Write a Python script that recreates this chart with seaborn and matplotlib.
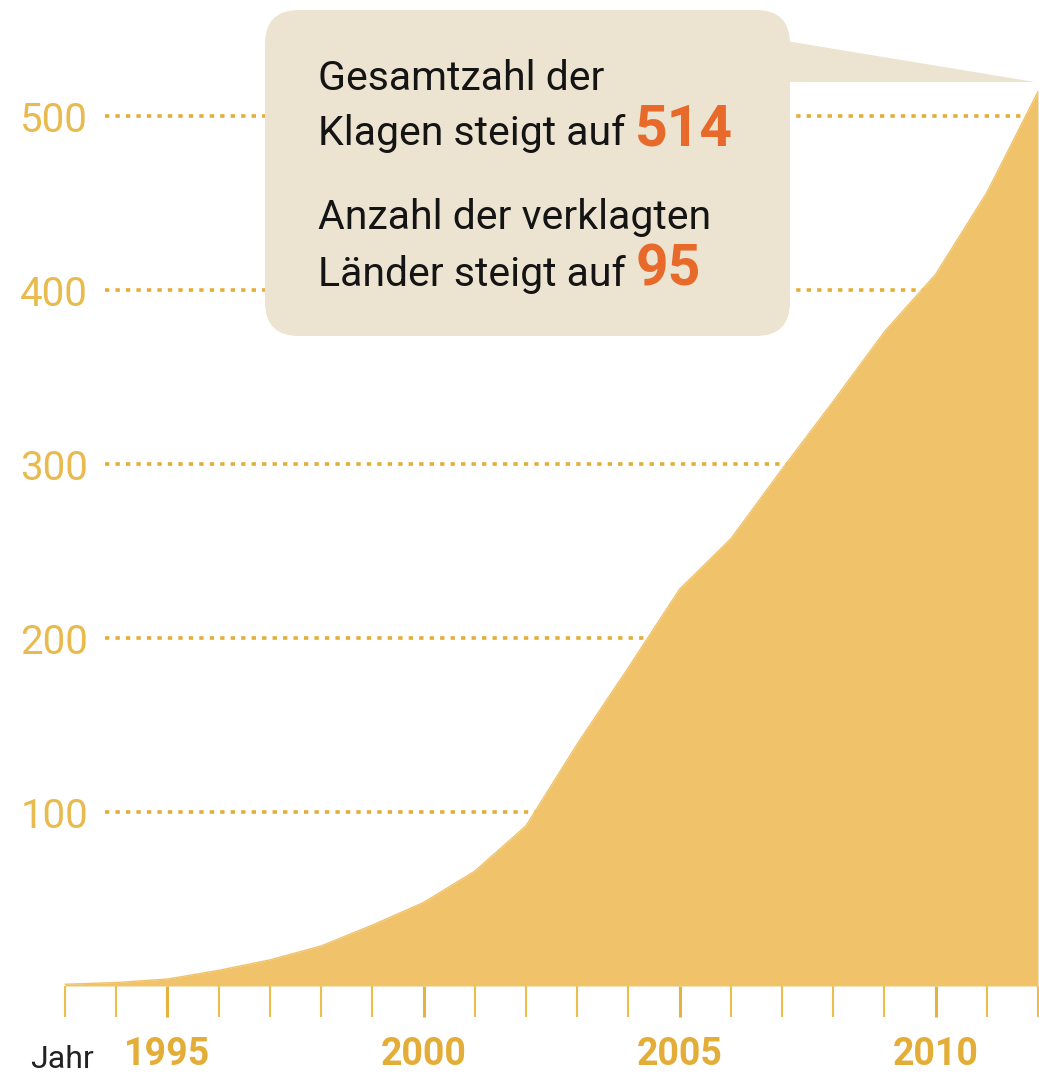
import matplotlib
matplotlib.use("Agg")
import matplotlib.pyplot as plt
import seaborn as sns
import numpy as np
import pandas as pd
from matplotlib import font_manager as fm
from matplotlib.patches import FancyBboxPatch, Polygon
from matplotlib.ticker import FixedLocator

# ---- data ----
years = [1993, 1994, 1995, 1996, 1997, 1998, 1999, 2000, 2001, 2002,
         2003, 2004, 2005, 2006, 2007, 2008, 2009, 2010, 2011, 2012]
klagen = [1, 2, 4, 9, 15, 23, 35, 48, 66, 92,
          139, 183, 228, 257, 297, 336, 376, 409, 456, 514]
ytick_values = [100, 200, 300, 400, 500]
xtick_labels = ["1995", "2000", "2005", "2010"]
callout_lines = ["Gesamtzahl der", "Klagen steigt auf", "Anzahl der verklagten", "Länder steigt auf"]
callout_numbers = ["514", "95"]
x_label = "Jahr"

df = pd.DataFrame({"Jahr": years, "Klagen": klagen})

sns.set_theme(style="white")
plt.rcParams['font.family'] = ['Roboto', 'DejaVu Sans']

try:
    fm.findfont(fm.FontProperties(family='Liberation Sans Narrow'), fallback_to_default=False)
    narrow = True
except Exception:
    narrow = False

if narrow:
    body_family = ['Liberation Sans Narrow', 'DejaVu Sans']
    body_size = 34
    jahr_size = 27
else:
    body_family = ['Roboto', 'DejaVu Sans']
    body_size = 29.5
    jahr_size = 23

W, H = 1039, 1074
fig = plt.figure(figsize=(W / 100, H / 100), dpi=100)
fig.patch.set_facecolor('white')

zero_px = 986        # pixel row of value 0
px_per_unit = 1.74
px_per_year = 51.16
ax = fig.add_axes([0, (H - zero_px) / H, 1, zero_px / H])
ax.set_facecolor('none')
ax.set_xlim(1993 - 65 / px_per_year, 2012 + 1 / px_per_year)
ax.set_ylim(0, zero_px / px_per_unit)

area_col = '#F0C36B'

# dotted grid lines (behind the area)
ax.hlines(ytick_values, 1993.78, 2012, colors='#E4AE36',
          linestyles=(0, (1.2, 1.7)), linewidth=2.6, zorder=1)

ax.fill_between(df["Jahr"], 0, df["Klagen"], color=area_col, linewidth=0, zorder=2)
sns.lineplot(data=df, x="Jahr", y="Klagen", color=area_col, linewidth=1, ax=ax, zorder=2)

for s in ax.spines.values():
    s.set_visible(False)
ax.set_xlabel("")
ax.set_ylabel("")

# y ticks: labels inside the axes
ax.set_yticks(ytick_values)
ax.set_yticklabels([str(v) for v in ytick_values])
ax.tick_params(axis='y', length=0, pad=-63.4, labelsize=29, labelcolor='#E9BA4E')
for lbl in ax.get_yticklabels():
    lbl.set_horizontalalignment('right')

# x ticks
major = [int(s) for s in xtick_labels]
ax.set_xticks(major)
ax.set_xticklabels(xtick_labels)
ax.xaxis.set_minor_locator(FixedLocator([y for y in years if y not in major]))
ax.tick_params(axis='x', which='major', bottom=True, direction='out', length=22,
               width=2.2, color='#E8B33C', pad=14, labelsize=27, labelcolor='#E3AD38')
ax.tick_params(axis='x', which='minor', bottom=True, direction='out', length=22,
               width=1.5, color='#EDBD4E')
for lbl in ax.get_xticklabels():
    lbl.set_fontweight('bold')

# overlay in pixel coordinates
ov = fig.add_axes([0, 0, 1, 1], zorder=5)
ov.set_xlim(0, W)
ov.set_ylim(H, 0)
ov.axis('off')
ov.patch.set_alpha(0)

box_col = '#ECE3D1'
ov.add_patch(Polygon([(780, 40), (1035, 82), (780, 82)], closed=True,
                     facecolor=box_col, edgecolor='none'))
ov.add_patch(FancyBboxPatch((265, 10), 525, 326,
                            boxstyle="round,pad=0,rounding_size=34",
                            facecolor=box_col, edgecolor='none'))

txt_col = '#141414'
orange = '#E86A2B'
ov.text(318, 90, callout_lines[0], va='baseline', ha='left', fontsize=body_size,
        family=body_family, color=txt_col)
t2 = ov.text(318, 145, callout_lines[1], va='baseline', ha='left', fontsize=body_size,
             family=body_family, color=txt_col)
ov.text(318, 229, callout_lines[2], va='baseline', ha='left', fontsize=body_size,
        family=body_family, color=txt_col)
t4 = ov.text(318, 286, callout_lines[3], va='baseline', ha='left', fontsize=body_size,
             family=body_family, color=txt_col)

fig.text(30 / W, 1 - 1068 / H, x_label, va='baseline', ha='left', fontsize=jahr_size,
         family=body_family, color='#222222')

fig.canvas.draw()
r = fig.canvas.get_renderer()
bb2 = t2.get_window_extent(r)
bb4 = t4.get_window_extent(r)
ov.text(bb2.x1 + 10, 145, callout_numbers[0], va='baseline', ha='left', fontsize=41,
        fontweight='bold', family=['Roboto', 'DejaVu Sans'], color=orange)
ov.text(bb4.x1 + 10, 286, callout_numbers[1], va='baseline', ha='left', fontsize=41,
        fontweight='bold', family=['Roboto', 'DejaVu Sans'], color=orange)

fig.savefig("out.png", dpi=100, facecolor='white')
